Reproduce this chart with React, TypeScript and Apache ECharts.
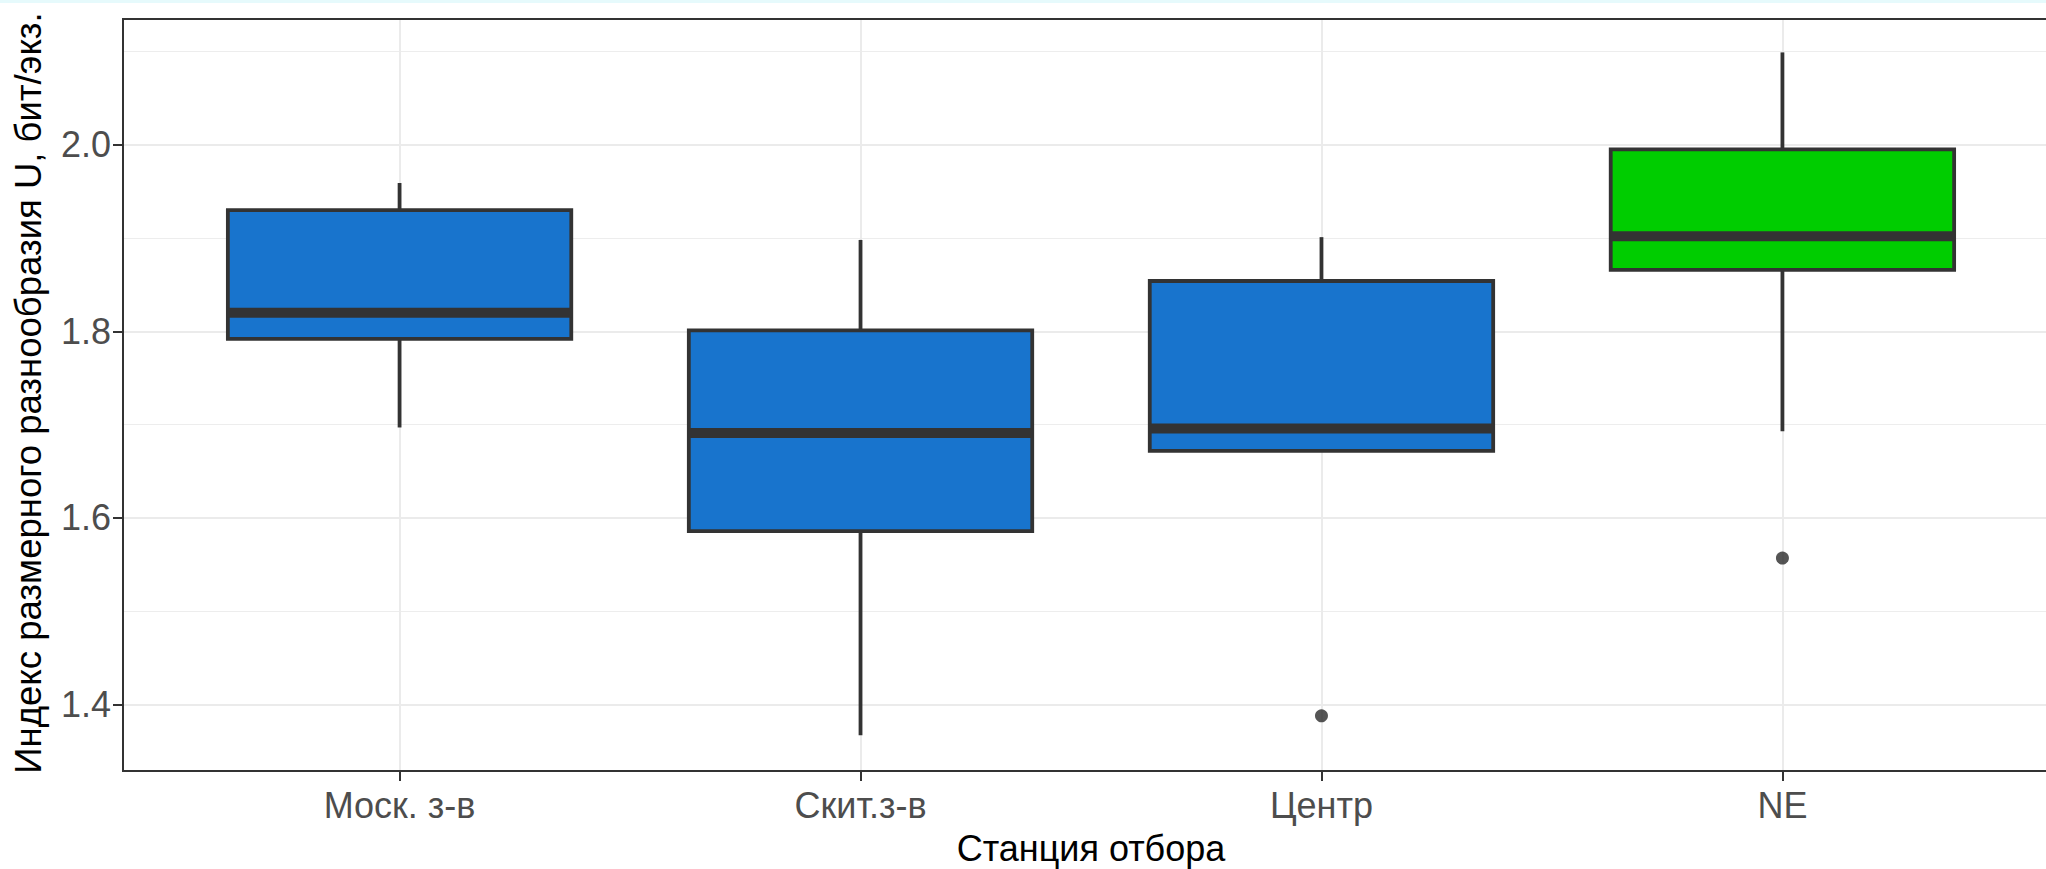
import React, { useEffect, useRef } from "react";
import * as echarts from "echarts";

const categories = ["Моск. з-в", "Скит.з-в", "Центр", "NE"];
const whiskerLow = [1.697, 1.367, 1.672, 1.693];
const q1 = [1.792, 1.586, 1.672, 1.866];
const median = [1.82, 1.691, 1.696, 1.902];
const q3 = [1.93, 1.801, 1.854, 1.995];
const whiskerHigh = [1.959, 1.898, 1.901, 2.099];
const fillColors = ["#1874CD", "#1874CD", "#1874CD", "#00CD00"];
const outlierCategories = ["Центр", "NE"];
const outlierValues = [1.388, 1.557];
const yMajorTicks = [1.4, 1.6, 1.8, 2.0];
const yMinorTicks = [1.5, 1.7, 1.9, 2.1];
const yMin = 1.3288;
const yMax = 2.1348;
const xTitle = "Станция отбора";
const yTitle = "Индекс размерного разнообразия U, бит/экз.";

const FONT = "'Liberation Sans', Arial, sans-serif";
const BOX_WIDTH = 0.745;

export default function App() {
  const ref = useRef<HTMLDivElement>(null);
  useEffect(() => {
    if (!ref.current) return;
    const chart = echarts.init(ref.current, null, { renderer: "svg" });
    const xPositions = categories.map((_, i) => i + 1);
    const boxData = categories.map((_, i) => [
      i + 1,
      whiskerLow[i],
      q1[i],
      median[i],
      q3[i],
      whiskerHigh[i],
    ]);
    const outlierData = outlierCategories.map((c, i) => [
      categories.indexOf(c) + 1,
      outlierValues[i],
    ]);
    const gridLines: any[] = [
      ...yMinorTicks.map((v) => ({ yAxis: v, lineStyle: { width: 1.2, color: "#EDEDED", type: "solid" } })),
      ...yMajorTicks.map((v) => ({ yAxis: v, lineStyle: { width: 2, color: "#EBEBEB", type: "solid" } })),
      ...xPositions.map((v) => ({ xAxis: v, lineStyle: { width: 2, color: "#EBEBEB", type: "solid" } })),
    ];
    chart.setOption({
      animation: false,
      backgroundColor: "#ffffff",
      grid: {
        left: 123,
        right: 21,
        top: 19,
        bottom: 98,
        show: true,
        borderColor: "#333333",
        borderWidth: 2,
        backgroundColor: "transparent",
        z: 6,
      },
      xAxis: {
        type: "value",
        min: 0.4,
        max: 4.6,
        axisLine: { show: false },
        splitLine: { show: false },
        axisTick: {
          show: true,
          customValues: xPositions,
          length: 10,
          lineStyle: { color: "#333333", width: 2 },
        },
        axisLabel: {
          customValues: xPositions,
          formatter: (v: number) => categories[Math.round(v) - 1] ?? "",
          color: "#4D4D4D",
          fontSize: 36,
          fontFamily: FONT,
          margin: 16,
        },
      },
      yAxis: {
        type: "value",
        min: yMin,
        max: yMax,
        axisLine: { show: false },
        splitLine: { show: false },
        axisTick: {
          show: true,
          customValues: yMajorTicks,
          length: 10,
          lineStyle: { color: "#333333", width: 2 },
        },
        axisLabel: {
          customValues: yMajorTicks,
          formatter: (v: number) => v.toFixed(1),
          color: "#4D4D4D",
          fontSize: 36,
          fontFamily: FONT,
          margin: 12,
        },
      },
      graphic: [
        { type: "rect", left: 0, top: 0, shape: { width: 2080, height: 3 }, style: { fill: "#e6fafc" }, silent: true },
        {
          type: "text",
          x: 1091,
          y: 848,
          style: { text: xTitle, fontSize: 36, fontFamily: FONT, fill: "#000000", align: "center", verticalAlign: "middle" },
          silent: true,
        },
        {
          type: "text",
          x: 28,
          y: 393,
          rotation: Math.PI / 2,
          style: { text: yTitle, fontSize: 36.5, fontFamily: FONT, fill: "#000000", align: "center", verticalAlign: "middle" },
          silent: true,
        },
      ],
      series: [
        {
          type: "custom",
          z: 3,
          encode: { x: 0, y: [1, 2, 3, 4, 5] },
          data: boxData,
          renderItem: (params: any, api: any) => {
            const x = api.value(0);
            const lo = api.coord([x, api.value(1)]);
            const b1 = api.coord([x, api.value(2)]);
            const md = api.coord([x, api.value(3)]);
            const b3 = api.coord([x, api.value(4)]);
            const hi = api.coord([x, api.value(5)]);
            const halfW = api.size([BOX_WIDTH, 0])[0] / 2;
            const fill = fillColors[params.dataIndex];
            const stroke = "#333333";
            return {
              type: "group",
              children: [
                { type: "line", shape: { x1: lo[0], y1: lo[1], x2: b1[0], y2: b1[1] }, style: { stroke, lineWidth: 3.8 } },
                { type: "line", shape: { x1: b3[0], y1: b3[1], x2: hi[0], y2: hi[1] }, style: { stroke, lineWidth: 3.8 } },
                {
                  type: "rect",
                  shape: { x: b3[0] - halfW, y: b3[1], width: 2 * halfW, height: b1[1] - b3[1] },
                  style: { fill, stroke, lineWidth: 3.8 },
                },
                {
                  type: "line",
                  shape: { x1: md[0] - halfW, y1: md[1], x2: md[0] + halfW, y2: md[1] },
                  style: { stroke, lineWidth: 10 },
                },
              ],
            };
          },
        },
        {
          type: "scatter",
          z: 4,
          data: outlierData,
          symbol: "circle",
          symbolSize: 13,
          itemStyle: { color: "#2b2b2b" },
          markLine: {
            z: 1,
            silent: true,
            symbol: ["none", "none"],
            label: { show: false },
            data: gridLines,
          },
        },
      ],
    });
    return () => chart.dispose();
  }, []);
  return (
    <div style={{ position: "fixed", left: 0, top: 0, width: 2046, height: 869, overflow: "hidden", background: "#fff" }}>
      <div ref={ref} style={{ width: 2080, height: 869 }} />
    </div>
  );
}
